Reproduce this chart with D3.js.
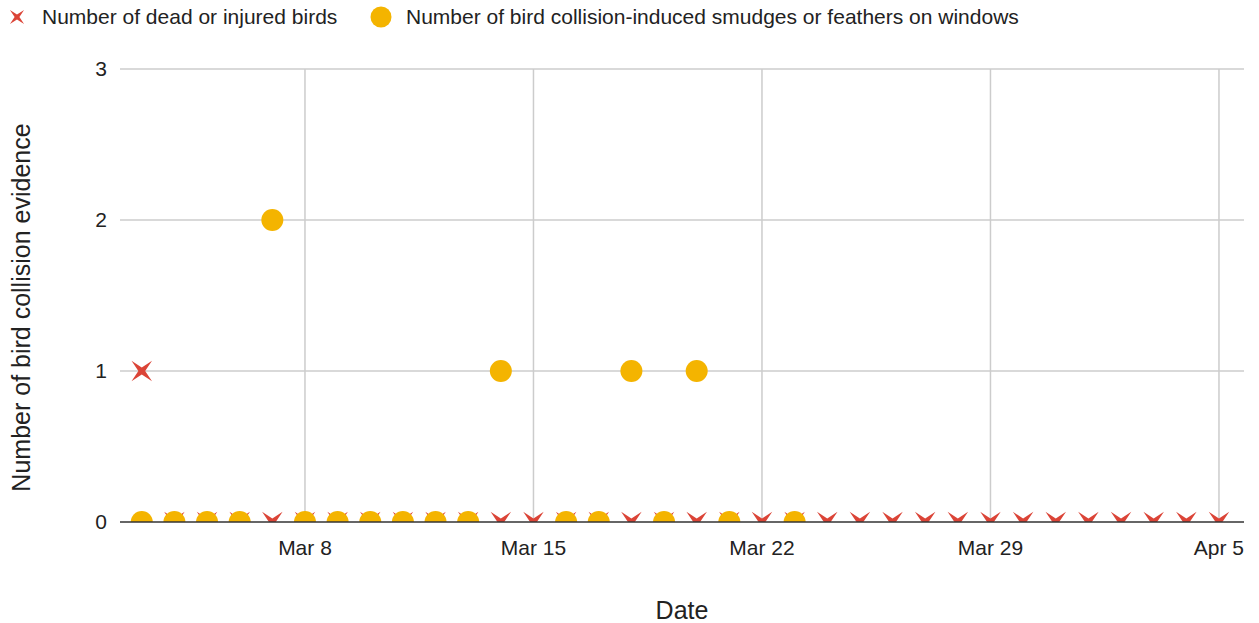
<!DOCTYPE html>
<html>
<head>
<meta charset="utf-8">
<script src="https://cdn.jsdelivr.net/npm/d3@7/dist/d3.min.js"></script>
<style>
  html, body { margin: 0; padding: 0; background: #fff; }
  svg { display: block; font-family: "Liberation Sans", Arial, sans-serif; }
</style>
</head>
<body>
<svg id="chart" width="1259" height="623"></svg>
<script>
// Daily observations, Mar 3 – Apr 5
const dates = [
  "2023-03-03","2023-03-04","2023-03-05","2023-03-06","2023-03-07","2023-03-08",
  "2023-03-09","2023-03-10","2023-03-11","2023-03-12","2023-03-13","2023-03-14",
  "2023-03-15","2023-03-16","2023-03-17","2023-03-18","2023-03-19","2023-03-20",
  "2023-03-21","2023-03-22","2023-03-23","2023-03-24","2023-03-25","2023-03-26",
  "2023-03-27","2023-03-28","2023-03-29","2023-03-30","2023-03-31","2023-04-01",
  "2023-04-02","2023-04-03","2023-04-04","2023-04-05"
];
const deadOrInjured = [
  1,0,0,0,0,0, 0,0,0,0,0,0, 0,0,0,0,0,0,
  0,0,0,0,0,0, 0,0,0,0,0,0, 0,0,0,0
];
const smudgesOrFeathers = [
  0,0,0,0,2,0, 0,0,0,0,0,1, null,0,0,1,0,1,
  0,null,0,null,null,null, null,null,null,null,null,null, null,null,null,null
];
const seriesNames = [
  "Number of dead or injured birds",
  "Number of bird collision-induced smudges or feathers on windows"
];
const xTickDates = ["2023-03-08","2023-03-15","2023-03-22","2023-03-29","2023-04-05"];
const yTicks = [0, 1, 2, 3];
const xTitle = "Date";
const yTitle = "Number of bird collision evidence";

const RED = "#db4437", YELLOW = "#f4b400";
const parse = d3.utcParse("%Y-%m-%d");
const fmt = d3.utcFormat("%b %-d");

const svg = d3.select("#chart");
const plot = { left: 120, right: 1244, top: 69, bottom: 522 };

const x = d3.scaleUtc()
  .domain([new Date(Date.UTC(2023, 2, 2, 8)), new Date(Date.UTC(2023, 3, 5, 18, 24))])
  .range([plot.left, plot.right]);
const y = d3.scaleLinear().domain([0, 3]).range([plot.bottom, plot.top]);

// four-pointed star turned 45° (an "X")
function starPath(outer, inner) {
  const pts = [];
  for (let i = 0; i < 8; i++) {
    const a = -Math.PI / 4 + i * Math.PI / 4;
    const r = i % 2 === 0 ? outer : inner;
    pts.push([r * Math.cos(a), r * Math.sin(a)]);
  }
  return "M" + pts.map(p => p.join(",")).join("L") + "Z";
}

svg.append("defs").append("clipPath").attr("id", "plotClip")
  .append("rect")
  .attr("x", plot.left).attr("y", 0)
  .attr("width", plot.right - plot.left).attr("height", plot.bottom);

// gridlines
const grid = svg.append("g");
grid.selectAll("line.h").data(yTicks.filter(t => t > 0)).join("line")
  .attr("x1", plot.left).attr("x2", plot.right)
  .attr("y1", d => y(d)).attr("y2", d => y(d))
  .attr("stroke", "#cccccc").attr("stroke-width", 1.5);
grid.selectAll("line.v").data(xTickDates.map(parse)).join("line")
  .attr("x1", d => x(d)).attr("x2", d => x(d))
  .attr("y1", plot.top).attr("y2", plot.bottom)
  .attr("stroke", "#cccccc").attr("stroke-width", 1.5);

// y tick labels
svg.append("g").selectAll("text").data(yTicks).join("text")
  .attr("x", 107).attr("y", d => y(d)).attr("dy", "0.35em")
  .attr("text-anchor", "end").attr("font-size", 21).attr("fill", "#222")
  .text(d => d);

// x tick labels
svg.append("g").selectAll("text").data(xTickDates.map(parse)).join("text")
  .attr("x", d => x(d)).attr("y", 548).attr("dy", "0.35em")
  .attr("text-anchor", "middle").attr("font-size", 21).attr("fill", "#222")
  .text(d => fmt(d));

// markers
const marks = svg.append("g").attr("clip-path", "url(#plotClip)");
const crossPath = starPath(14.5, 3.4);
marks.selectAll("path.dead")
  .data(dates.map((d, i) => ({ date: parse(d), v: deadOrInjured[i] })).filter(d => d.v != null))
  .join("path")
  .attr("d", crossPath)
  .attr("transform", d => `translate(${x(d.date)},${y(d.v)})`)
  .attr("fill", RED);
marks.selectAll("circle.smudge")
  .data(dates.map((d, i) => ({ date: parse(d), v: smudgesOrFeathers[i] })).filter(d => d.v != null))
  .join("circle")
  .attr("cx", d => x(d.date)).attr("cy", d => y(d.v)).attr("r", 11)
  .attr("fill", YELLOW);

// baseline
svg.append("line")
  .attr("x1", plot.left).attr("x2", plot.right)
  .attr("y1", y(0)).attr("y2", y(0))
  .attr("stroke", "#333").attr("stroke-width", 1.5);

// axis titles
svg.append("text")
  .attr("x", (plot.left + plot.right) / 2).attr("y", 610).attr("dy", "0.35em")
  .attr("text-anchor", "middle").attr("font-size", 25).attr("fill", "#222")
  .text(xTitle);
svg.append("text")
  .attr("transform", `translate(21,${(plot.top + plot.bottom) / 2 + 12}) rotate(-90)`)
  .attr("dy", "0.35em")
  .attr("text-anchor", "middle").attr("font-size", 25).attr("fill", "#222")
  .text(yTitle);

// legend
const legend = svg.append("g");
legend.append("path")
  .attr("d", starPath(10, 2.4)).attr("transform", "translate(17,17)").attr("fill", RED);
legend.append("text")
  .attr("x", 42).attr("y", 17).attr("dy", "0.35em")
  .attr("font-size", 21).attr("fill", "#222").text(seriesNames[0]);
legend.append("circle").attr("cx", 381).attr("cy", 17).attr("r", 10.5).attr("fill", YELLOW);
legend.append("text")
  .attr("x", 406).attr("y", 17).attr("dy", "0.35em")
  .attr("font-size", 21).attr("fill", "#222").text(seriesNames[1]);
</script>
</body>
</html>
